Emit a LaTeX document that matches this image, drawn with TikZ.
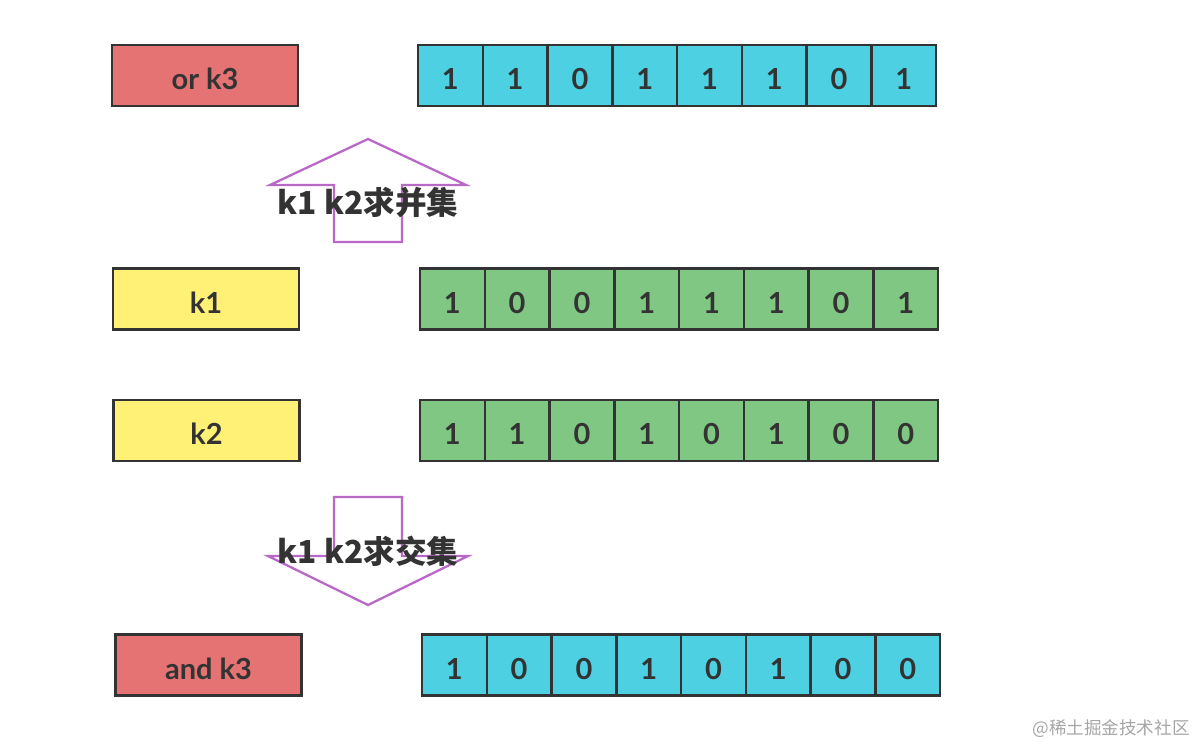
\documentclass[tikz,border=0pt]{standalone}
\usepackage{fontspec}
\setmainfont{Lato}
\newfontfamily\cjk{Noto Sans CJK SC}
\usepackage{tikz}
\definecolor{keyred}{HTML}{E57373}
\definecolor{keyyellow}{HTML}{FFF176}
\definecolor{bitcyan}{HTML}{4DD0E1}
\definecolor{bitgreen}{HTML}{81C784}
\definecolor{arrowpurple}{HTML}{BA68C8}
\definecolor{inkgray}{HTML}{333333}

\begin{document}
\begin{tikzpicture}[x=0.02cm, y=-0.02cm,
   keybox/.style={draw=inkgray, line width=1.4pt, minimum width=3.72cm, minimum height=1.22cm,
                  inner sep=0pt, text height=16pt, text depth=0pt, text=inkgray,
                  font=\fontsize{16.5}{18}\selectfont\bfseries},
   bitcell/.style={draw=inkgray, line width=1.4pt, minimum width=1.295cm, minimum height=1.22cm,
                   inner sep=0pt, text height=16pt, text depth=0pt, text=inkgray,
                   font=\fontsize{16.5}{18}\selectfont\bfseries},
   setarrow/.style={draw=arrowpurple, line width=1.3pt, fill=white},
   setlabel/.style={text=inkgray, inner sep=0pt, font=\cjk\fontsize{18}{20}\selectfont\bfseries}]
   \useasboundingbox (0,0) rectangle (1200,748);

   % key boxes and bit rows
   \foreach \rowname/\txt/\keyc/\bitc/\yc/\lx/\bx/\bits in {
      ork/or k3/keyred/bitcyan/75.5/205/418/{1,1,0,1,1,1,0,1},
      kone/k1/keyyellow/bitgreen/299/206/420/{1,0,0,1,1,1,0,1},
      ktwo/k2/keyyellow/bitgreen/430.5/206.5/420/{1,1,0,1,0,1,0,0},
      andk/and k3/keyred/bitcyan/665/208.5/422/{1,0,0,1,0,1,0,0}}
   {
      \node[keybox, fill=\keyc] (\rowname) at (\lx,\yc) {\txt};
      \foreach \b [count=\i from 0] in \bits
         \node[bitcell, fill=\bitc] (\rowname-\i) at (\bx+32.4+64.75*\i,\yc) {\b};
   }

   % union arrow (up)
   \draw[setarrow] (334,242) -- (334,185) -- (270,185) -- (368,139) -- (466,185)
                   -- (402,185) -- (402,242) -- cycle;
   \node[setlabel] (unionlab) at (368,203) {k1 k2求并集};

   % intersection arrow (down)
   \draw[setarrow] (334,497) -- (334,556) -- (268,556) -- (368,605) -- (468,556)
                   -- (402,556) -- (402,497) -- cycle;
   \node[setlabel] (interlab) at (368,551) {k1 k2求交集};

   \node[anchor=east, text=gray!70, inner sep=0pt, font=\cjk\fontsize{10}{12}\selectfont] (mark)
      at (1190,729) {@稀土掘金技术社区};
\end{tikzpicture}
\end{document}
